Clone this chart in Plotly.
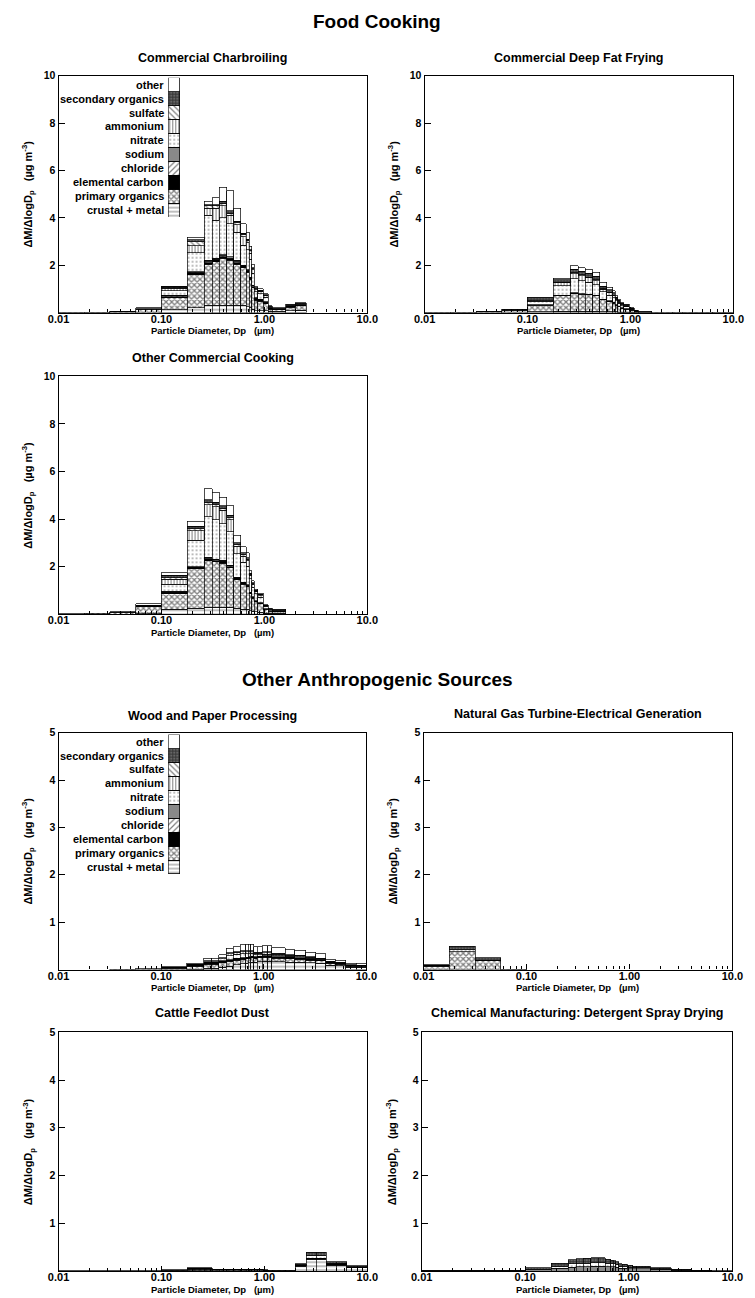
import math
import plotly.graph_objects as go

# ---------------- data ----------------
EDGES = [0.01, 0.0178, 0.0316, 0.0562, 0.1, 0.178, 0.26, 0.31, 0.365, 0.43, 0.505,
         0.59, 0.67, 0.71, 0.75, 0.80, 0.86, 0.97, 1.09, 1.19, 1.62, 2.0, 2.56,
         3.2, 4.0, 5.0, 6.3, 8.0, 10.0]

COMP_KEYS = ["crustal", "po", "ec", "cl", "na", "no3", "nh4", "so4", "secorg", "other"]
COMP_LABELS = ["crustal + metal", "primary organics", "elemental carbon", "chloride",
               "sodium", "nitrate", "ammonium", "sulfate", "secondary organics", "other"]

X_TICKVALS = [0.01, 0.1, 1.0, 10.0]
X_TICKTEXT = ["0.01", "0.10", "1.00", "10.0"]

CHARBROIL = {
    "crustal": [0, 0, 0, 0, .12, .2, .3, .3, .3, .3, .3, .3, .25, .2, .15, .08, .08, .07, .05, .05, .08, .1, 0, 0, 0, 0, 0, 0],
    "po":      [.01, .02, .04, .15, .5, 1.4, 1.75, 1.85, 2.0, 1.9, 1.75, 1.6, 1.45, 1.2, .9, .45, .4, .3, .1, .08, .15, .18, 0, 0, 0, 0, 0, 0],
    "ec":      [0, 0, .01, .02, .05, .05, .05, .05, .05, .05, .05, .05, .05, .05, .05, .05, .05, .05, .03, .02, .03, .03, 0, 0, 0, 0, 0, 0],
    "cl":      [0, 0, 0, 0, .03, .05, .05, .05, .05, .05, .05, .03, .03, .03, .03, .02, .02, .02, 0, 0, 0, 0, 0, 0, 0, 0, 0, 0],
    "na":      [0, 0, 0, 0, .03, .03, .05, .05, .05, .05, .05, .02, .02, .02, .02, .02, .02, .02, 0, 0, 0, 0, 0, 0, 0, 0, 0, 0],
    "no3":     [0, 0, 0, 0, .2, .8, 1.9, 1.6, 1.55, 1.4, 1.2, .85, .85, .75, .5, .25, .22, .18, .05, .03, .04, .05, 0, 0, 0, 0, 0, 0],
    "nh4":     [0, 0, 0, 0, .1, .3, .3, .5, .5, .35, .3, .35, .3, .25, .15, .1, .08, .06, .03, .02, .02, .03, 0, 0, 0, 0, 0, 0],
    "so4":     [0, 0, 0, 0, .03, .15, .1, .1, .1, .1, .1, .1, .1, .1, .05, .04, .04, .03, 0, 0, 0, 0, 0, 0, 0, 0, 0, 0],
    "secorg":  [0, 0, 0, 0, .02, .1, .05, .05, .1, .1, .05, .05, .05, .05, .05, .03, .03, .03, 0, 0, 0, 0, 0, 0, 0, 0, 0, 0],
    "other":   [0, 0, .01, .03, .02, .1, .15, .3, .6, .85, .55, .4, .3, .15, .13, .06, .06, .04, .02, 0, .03, .03, 0, 0, 0, 0, 0, 0],
}

FRYING = {
    "crustal": [0, 0, 0, 0, .03, .05, .05, .05, .05, .05, .04, .04, .03, .03, .02, .02, .02, .01, .01, .01, 0, 0, 0, 0, 0, 0, 0, 0],
    "po":      [.01, .02, .03, .1, .27, .65, .75, .72, .7, .65, .5, .42, .37, .28, .22, .16, .13, .08, .04, .02, .02, .02, .02, .02, .02, .02, .02, .02],
    "ec":      [0, 0, .01, .02, .02, .03, .03, .03, .03, .03, .03, .03, .03, .03, .03, .02, .02, .02, .01, .01, 0, 0, 0, 0, 0, 0, 0, 0],
    "no3":     [0, 0, 0, 0, .15, .4, .6, .55, .5, .45, .3, .25, .2, .15, .12, .09, .07, .04, .02, .01, 0, 0, 0, 0, 0, 0, 0, 0],
    "nh4":     [0, 0, 0, 0, .03, .12, .2, .2, .18, .17, .12, .1, .09, .07, .05, .04, .03, .02, .01, 0, 0, 0, 0, 0, 0, 0, 0, 0],
    "so4":     [0, 0, 0, 0, 0, .03, .05, .05, .04, .04, .03, .02, .02, .02, .02, .01, .01, 0, 0, 0, 0, 0, 0, 0, 0, 0, 0, 0],
    "secorg":  [0, 0, 0, .02, .12, .1, .15, .15, .15, .14, .1, .1, .09, .07, .06, .05, .04, .02, .01, 0, 0, 0, 0, 0, 0, 0, 0, 0],
    "other":   [0, 0, 0, 0, .02, .06, .15, .15, .15, .17, .15, .1, .09, .05, .04, .03, .03, .01, 0, 0, 0, 0, 0, 0, 0, 0, 0, 0],
}

OTHER_COOKING = {
    "crustal": [0, 0, 0, .02, .2, .25, .3, .3, .3, .3, .25, .2, .2, .15, .12, .1, .08, .04, .03, .03, 0, 0, 0, 0, 0, 0, 0, 0],
    "po":      [.01, .03, .08, .3, .65, 1.65, 1.95, 1.9, 1.85, 1.65, 1.2, 1.05, .95, .7, .55, .42, .35, .16, .1, .08, 0, 0, 0, 0, 0, 0, 0, 0],
    "ec":      [0, 0, .02, .05, .05, .05, .05, .05, .05, .05, .05, .05, .05, .04, .04, .03, .03, .03, .02, .02, 0, 0, 0, 0, 0, 0, 0, 0],
    "cl":      [0, 0, 0, 0, .03, .03, .03, .03, .03, .03, .03, .02, .02, .02, .01, .01, .01, 0, 0, 0, 0, 0, 0, 0, 0, 0, 0, 0],
    "na":      [0, 0, 0, 0, .03, .02, .07, .03, .03, .03, .02, .02, .02, .02, .01, .01, .01, 0, 0, 0, 0, 0, 0, 0, 0, 0, 0, 0],
    "no3":     [0, 0, 0, 0, .3, 1.1, 1.7, 1.65, 1.55, 1.4, 1.0, .85, .78, .55, .4, .28, .23, .1, .06, .04, 0, 0, 0, 0, 0, 0, 0, 0],
    "nh4":     [0, 0, 0, 0, .2, .4, .5, .55, .55, .5, .3, .25, .22, .15, .12, .09, .07, .03, .02, .01, 0, 0, 0, 0, 0, 0, 0, 0],
    "so4":     [0, 0, 0, 0, .08, .1, .1, .1, .1, .1, .08, .08, .07, .05, .04, .03, .03, .01, 0, 0, 0, 0, 0, 0, 0, 0, 0, 0],
    "secorg":  [0, 0, 0, 0, .1, .1, .12, .1, .1, .1, .07, .06, .06, .05, .04, .03, .03, .01, 0, 0, 0, 0, 0, 0, 0, 0, 0, 0],
    "other":   [0, 0, 0, .06, .1, .2, .45, .42, .36, .39, .32, .25, .21, .1, .07, .05, .04, .02, .02, .02, 0, 0, 0, 0, 0, 0, 0, 0],
}

WOOD = {
    "crustal": [0, 0, 0, 0, 0, .01, .03, .03, .05, .07, .1, .12, .13, .14, .15, .15, .16, .17, .17, .16, .15, .15, .14, .13, .09, .08, .05, .05],
    "po":      [0, 0, .01, .02, .03, .06, .08, .08, .09, .1, .1, .1, .1, .1, .1, .09, .09, .09, .09, .08, .08, .07, .06, .05, .04, .03, .02, .02],
    "ec":      [0, 0, 0, 0, .03, .04, .05, .05, .04, .04, .04, .03, .03, .03, .03, .03, .03, .03, .03, .03, .03, .03, .02, .02, .02, .02, .02, .02],
    "no3":     [0, 0, 0, 0, 0, 0, .03, .03, .05, .08, .08, .08, .07, .06, .06, .04, .03, .03, .03, .02, .02, .02, .02, .02, .01, .01, .01, 0],
    "nh4":     [0, 0, 0, 0, 0, 0, 0, 0, .02, .04, .04, .05, .05, .05, .04, .03, .03, .03, .03, .03, .02, .02, .02, .01, .01, .01, 0, 0],
    "so4":     [0, 0, 0, 0, 0, 0, 0, 0, 0, .02, .02, .02, .02, .02, .02, .02, .02, .02, .02, .02, .01, .01, .01, .01, 0, 0, 0, 0],
    "other":   [0, 0, 0, 0, 0, .02, .05, .05, .06, .1, .1, .12, .13, .13, .13, .12, .12, .13, .13, .12, .11, .11, .09, .09, .05, .05, .03, .03],
}

TURBINE = {
    "po":      [.07, .38, .18, .01, 0, 0, 0, 0, 0, 0, 0, 0, 0, 0, 0, 0, 0, 0, 0, 0, 0, 0, 0, 0, 0, 0, 0, 0],
    "ec":      [.03, 0, .02, 0, 0, 0, 0, 0, 0, 0, 0, 0, 0, 0, 0, 0, 0, 0, 0, 0, 0, 0, 0, 0, 0, 0, 0, 0],
    "no3":     [0, .05, 0, 0, 0, 0, 0, 0, 0, 0, 0, 0, 0, 0, 0, 0, 0, 0, 0, 0, 0, 0, 0, 0, 0, 0, 0, 0],
    "secorg":  [0, .06, .05, 0, 0, 0, 0, 0, 0, 0, 0, 0, 0, 0, 0, 0, 0, 0, 0, 0, 0, 0, 0, 0, 0, 0, 0, 0],
}

CATTLE = {
    "crustal": [0, 0, 0, 0, 0, .01, .01, .01, .01, .01, .01, .01, .01, .01, .01, .01, .01, .01, .01, .01, .01, .1, .25, .25, .12, .12, .07, .07],
    "po":      [.005, .005, .01, .01, .02, .03, .03, .02, .02, .02, .02, .02, .02, .02, .02, .02, .02, .01, .01, .01, .01, 0, 0, 0, 0, 0, 0, 0],
    "ec":      [0, 0, 0, 0, .01, .03, .03, .01, .01, .01, .01, .01, .01, .01, .01, .01, .01, .01, 0, 0, 0, .03, .02, .02, .03, .03, .02, .02],
    "no3":     [0, 0, 0, 0, 0, 0, 0, 0, 0, 0, 0, 0, 0, 0, 0, 0, 0, 0, 0, 0, 0, 0, .05, .05, .02, .02, 0, 0],
    "secorg":  [0, 0, 0, 0, 0, 0, 0, 0, 0, 0, 0, 0, 0, 0, 0, 0, 0, 0, 0, 0, 0, .02, .08, .08, .03, .03, .02, .02],
}

DETERGENT = {
    "na":      [.005, .005, .005, .005, .04, .06, .08, .09, .09, .1, .1, .09, .09, .09, .08, .06, .06, .05, .05, .05, .04, .04, .02, .02, .01, .01, .01, .01],
    "no3":     [0, 0, 0, 0, 0, .04, .07, .07, .08, .08, .08, .07, .06, .06, .05, .04, .03, .03, .02, .02, .01, .01, .01, .01, 0, 0, 0, 0],
    "secorg":  [.005, .005, .005, .005, .03, .06, .09, .1, .1, .1, .1, .09, .08, .07, .07, .05, .05, .04, .03, .03, .02, .02, .01, .01, .01, .01, 0, 0],
}

# ---------------- styling ----------------
FONT = "Liberation Sans, Arial, Helvetica, sans-serif"
W, H = 755, 1298

STYLE = {
    "crustal": dict(color="white", pattern=dict(shape="-", size=4, solidity=0.25, fgcolor="black")),
    "po":      dict(color="white", pattern=dict(shape="x", size=4, solidity=0.55, fgcolor="black")),
    "ec":      dict(color="black"),
    "cl":      dict(color="white", pattern=dict(shape="/", size=4, solidity=0.3, fgcolor="black")),
    "na":      dict(color="#b0b0b0", pattern=dict(shape=".", size=2, solidity=0.5, fgcolor="black")),
    "no3":     dict(color="white", pattern=dict(shape=".", size=4, solidity=0.15, fgcolor="black")),
    "nh4":     dict(color="white", pattern=dict(shape="|", size=3, solidity=0.35, fgcolor="black")),
    "so4":     dict(color="white", pattern=dict(shape="\\", size=4, solidity=0.3, fgcolor="black")),
    "secorg":  dict(color="#666666", pattern=dict(shape="+", size=3, solidity=0.5, fgcolor="black")),
    "other":   dict(color="white"),
}

PANELS = [
    dict(title="Commercial Charbroiling", data=CHARBROIL, ymax=10, yticks=[2, 4, 6, 8, 10], px=(49, 367), py=(70, 308), ttl=52, legend=(72, 212)),
    dict(title="Commercial Deep Fat Frying", data=FRYING, ymax=10, yticks=[2, 4, 6, 8, 10], px=(426, 744), py=(70, 308), ttl=52, legend=None),
    dict(title="Other Commercial Cooking", data=OTHER_COOKING, ymax=10, yticks=[2, 4, 6, 8, 10], px=(49, 367), py=(372, 611), ttl=354, legend=None),
    dict(title="Wood and Paper Processing", data=WOOD, ymax=5, yticks=[1, 2, 3, 4, 5], px=(49, 366), py=(730, 968), ttl=713, legend=(732, 872)),
    dict(title="Natural Gas Turbine-Electrical Generation", data=TURBINE, ymax=5, yticks=[1, 2, 3, 4, 5], px=(425, 743), py=(730, 968), ttl=711, legend=None),
    dict(title="Cattle Feedlot Dust", data=CATTLE, ymax=5, yticks=[1, 2, 3, 4, 5], px=(49, 367), py=(1031, 1271), ttl=1012, legend=None),
    dict(title="Chemical Manufacturing: Detergent Spray Drying", data=DETERGENT, ymax=5, yticks=[1, 2, 3, 4, 5], px=(423, 743), py=(1031, 1271), ttl=1012, legend=None),
]


def fx(x):
    return x / W


def fy(y):
    return 1 - y / H


LOG_E = [math.log10(e) for e in EDGES]
XC = [(a + b) / 2 for a, b in zip(LOG_E[:-1], LOG_E[1:])]
XW = [b - a for a, b in zip(LOG_E[:-1], LOG_E[1:])]
MINOR = [math.log10(k * 10 ** d) for d in (-2, -1, 0) for k in range(2, 10)]

fig = go.Figure()
layout = {}
annotations = []

n_axes = len(PANELS)
for i, p in enumerate(PANELS, start=1):
    sfx = "" if i == 1 else str(i)
    xa, ya = "x" + sfx, "y" + sfx
    for key, label in zip(COMP_KEYS, COMP_LABELS):
        vals = p["data"].get(key)
        if vals is None:
            continue
        yv = [v if v > 0 else None for v in vals]
        st = STYLE[key]
        fig.add_trace(go.Bar(
            x=XC, y=yv, width=XW, name=label, xaxis=xa, yaxis=ya, showlegend=False,
            marker=dict(color=st["color"], pattern=st.get("pattern", dict(shape="")),
                        line=dict(color="black", width=0.7)),
        ))
    layout["xaxis" + sfx] = dict(
        domain=[fx(p["px"][0]), fx(p["px"][1])], anchor=ya, range=[-2, 1],
        tickvals=[math.log10(v) for v in X_TICKVALS], ticktext=X_TICKTEXT,
        ticks="inside", ticklen=5, tickwidth=1, tickcolor="black",
        minor=dict(tickvals=MINOR, ticks="inside", ticklen=3, tickcolor="black", tickwidth=1),
        showline=True, linecolor="black", linewidth=1.2, mirror=True,
        showgrid=False, zeroline=False, ticklabelstandoff=-4,
        tickfont=dict(family=FONT, size=11, color="black", weight="bold"),
    )
    layout["yaxis" + sfx] = dict(
        domain=[fy(p["py"][1]), fy(p["py"][0])], anchor=xa, range=[0, p["ymax"]],
        tickvals=p["yticks"], ticks="inside", ticklen=6, tickwidth=1, tickcolor="black",
        showline=True, linecolor="black", linewidth=1.2, mirror=True,
        showgrid=False, zeroline=False,
        tickfont=dict(family=FONT, size=10.5, color="black", weight="bold"),
    )
    cx = (p["px"][0] + p["px"][1]) / 2
    annotations.append(dict(text="<b>%s</b>" % p["title"], x=fx(cx), y=fy(p["ttl"]),
                            xref="paper", yref="paper", showarrow=False, xanchor="center", yanchor="middle",
                            font=dict(family=FONT, size=12.5, color="black")))
    annotations.append(dict(text="<b>Particle Diameter, Dp\u00a0\u00a0\u00a0(\u00b5m)</b>", x=fx(cx), y=fy(p["py"][1] + 18.5),
                            xref="paper", yref="paper", showarrow=False, xanchor="center", yanchor="middle",
                            font=dict(family=FONT, size=9.5, color="black")))
    annotations.append(dict(text="<b>\u0394M/\u0394logD<sub>p</sub>\u00a0\u00a0\u00a0(\u00b5g m<sup>-3</sup>)</b>",
                            x=fx(p["px"][0] - 31), y=fy((p["py"][0] + p["py"][1]) / 2),
                            xref="paper", yref="paper", showarrow=False, xanchor="center", yanchor="middle",
                            textangle=-90, font=dict(family=FONT, size=11, color="black")))

# legend keys drawn as stacked swatches on their own small axes
k = n_axes
for p in PANELS:
    if p["legend"] is None:
        continue
    k += 1
    sfx = str(k)
    top, bot = p["legend"]
    for key, label in zip(COMP_KEYS, COMP_LABELS):
        st = STYLE[key]
        fig.add_trace(go.Bar(
            x=[0], y=[1], width=[1], name=label, xaxis="x" + sfx, yaxis="y" + sfx, showlegend=False,
            marker=dict(color=st["color"], pattern=st.get("pattern", dict(shape="")),
                        line=dict(color="black", width=0.8)),
        ))
    lx0 = p["px"][0] + 113
    layout["xaxis" + sfx] = dict(domain=[fx(lx0), fx(lx0 + 12)], anchor="y" + sfx, range=[-0.5, 0.5], visible=False, fixedrange=True)
    layout["yaxis" + sfx] = dict(domain=[fy(bot), fy(top)], anchor="x" + sfx, range=[0, len(COMP_KEYS)], visible=False, fixedrange=True)
    cell = (bot - top) / len(COMP_KEYS)
    for j, label in enumerate(COMP_LABELS):
        annotations.append(dict(text="<b>%s</b>" % label, x=fx(lx0 - 2), y=fy(bot - cell * (j + 0.5)),
                                xref="paper", yref="paper", showarrow=False, xanchor="right", yanchor="middle",
                                font=dict(family=FONT, size=11, color="black")))

annotations.append(dict(text="<b>Food Cooking</b>", x=fx(377), y=fy(16), xref="paper", yref="paper",
                        showarrow=False, xanchor="center", yanchor="middle", font=dict(family=FONT, size=19, color="black")))
annotations.append(dict(text="<b>Other Anthropogenic Sources</b>", x=fx(377), y=fy(677), xref="paper", yref="paper",
                        showarrow=False, xanchor="center", yanchor="middle", font=dict(family=FONT, size=19, color="black")))

fig.update_layout(
    width=W, height=H, margin=dict(l=0, r=0, t=0, b=0),
    paper_bgcolor="white", plot_bgcolor="rgba(0,0,0,0)",
    barmode="stack", showlegend=False, annotations=annotations,
    font=dict(family=FONT, color="black"),
    **layout,
)

fig.write_html("out.html")
